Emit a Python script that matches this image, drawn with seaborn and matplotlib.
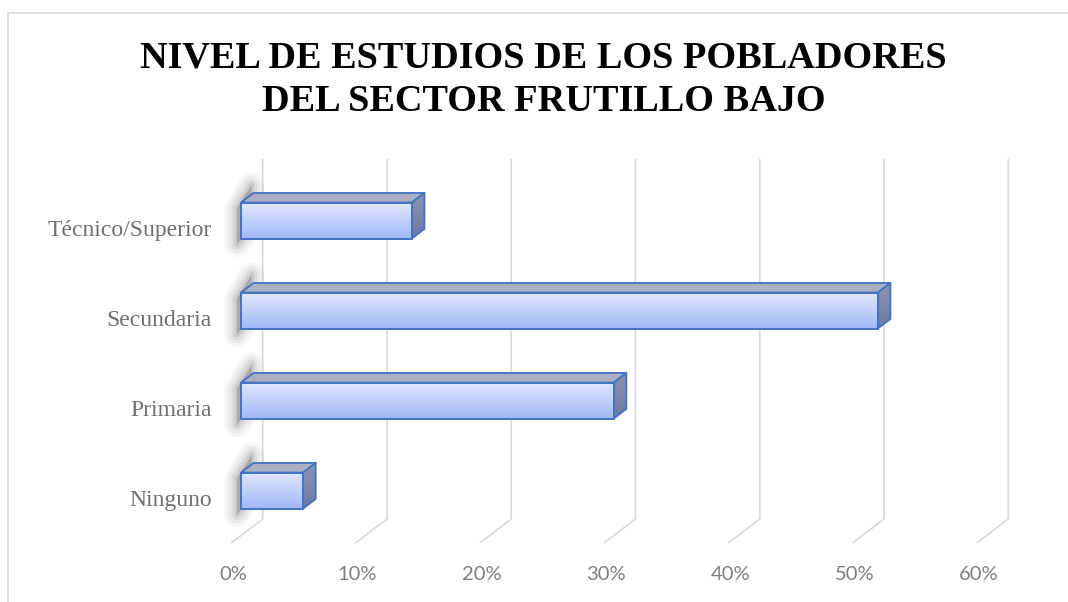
import numpy as np
import pandas as pd
import matplotlib
matplotlib.use("Agg")
import matplotlib.pyplot as plt
from matplotlib.patches import Polygon
from matplotlib.lines import Line2D
from matplotlib.colors import LinearSegmentedColormap
import seaborn as sns

# ---------------- data ----------------
categories = ["Técnico/Superior", "Secundaria", "Primaria", "Ninguno"]
values = [0.1375, 0.5125, 0.30, 0.05]
xticks = [0.0, 0.1, 0.2, 0.3, 0.4, 0.5, 0.6]
xtick_labels = ["0%", "10%", "20%", "30%", "40%", "50%", "60%"]
title_lines = ["NIVEL DE ESTUDIOS DE LOS POBLADORES", "DEL SECTOR FRUTILLO BAJO"]

# ---------------- layout ----------------
W, H = 1068, 602
sns.set_theme(style="white")
fig = plt.figure(figsize=(W / 100, H / 100), dpi=100)
fig.patch.set_facecolor("white")

wall_left, wall_right = 262.7, 1008.3
wall_top, wall_bottom = 159.0, 519.0
ax = fig.add_axes([wall_left / W, 1 - wall_bottom / H,
                   (wall_right - wall_left) / W, (wall_bottom - wall_top) / H])
XMAX = 0.6
NCAT = len(categories)
PXX = XMAX / (wall_right - wall_left)     # data units per pixel (x)
PXY = NCAT / (wall_bottom - wall_top)     # data units per pixel (y)

DXd = -31.5 * PXX   # full depth offset (back -> front)
DYd = 24.0 * PXY
F_FRONT, F_BACK = 0.69, 0.29
BAR_W = 0.4

df = pd.DataFrame({"cat": categories, "val": values})
sns.barplot(data=df, x="val", y="cat", orient="h", width=BAR_W, ax=ax,
            color="#b8c9fb", edgecolor="#4472c4", linewidth=1.4)

ax.set_xlim(0, XMAX)
ax.set_ylim(NCAT - 0.5, -0.5)
ax.axis("off")

edge = "#4472c4"
grid_c = "#d9d9d9"

# gridlines: back wall verticals + floor diagonals
ybot = NCAT - 0.5
for xv in xticks:
    ax.plot([xv, xv, xv + DXd], [-0.5, ybot, ybot + DYd], color=grid_c,
            lw=1.2, zorder=1, clip_on=False, solid_capstyle="butt")

front_cmap = LinearSegmentedColormap.from_list("front", ["#e1e8fe", "#9fb8f6"])
side_cmap = LinearSegmentedColormap.from_list("side", ["#8a94b4", "#6c79a0"])
grad = np.linspace(0, 1, 64).reshape(-1, 1)

ox_f, oy_f = F_FRONT * DXd, F_FRONT * DYd
ox_b, oy_b = F_BACK * DXd, F_BACK * DYd

for p in ax.patches:
    x0, y0 = p.get_x(), p.get_y()
    w, h = p.get_width(), p.get_height()
    yt, yb = y0, y0 + h  # yt visually top (inverted axis)

    # soft shadow along the left side
    sh = [(x0 + ox_f - 4 * PXX, yt + oy_f + 6 * PXY),
          (x0 + ox_f - 4 * PXX, yb + oy_f + 6 * PXY),
          (x0 + ox_b - 2 * PXX, yb + oy_b - 4 * PXY),
          (x0 + ox_b - 2 * PXX, yt + oy_b - 8 * PXY)]
    for lw_, a_ in [(18, 0.05), (13, 0.07), (8, 0.09), (4, 0.12)]:
        ax.add_patch(Polygon(sh, closed=True, facecolor=(0.35, 0.35, 0.35, a_),
                             edgecolor=(0.35, 0.35, 0.35, a_), lw=lw_,
                             joinstyle="round", zorder=2, clip_on=False))

    # top face
    top = [(x0 + ox_f, yt + oy_f), (x0 + w + ox_f, yt + oy_f),
           (x0 + w + ox_b, yt + oy_b), (x0 + ox_b, yt + oy_b)]
    ax.add_patch(Polygon(top, closed=True, facecolor="#aab0c1", edgecolor=edge,
                         lw=1.3, joinstyle="round", zorder=3, clip_on=False))
    # side face
    side = [(x0 + w + ox_f, yt + oy_f), (x0 + w + ox_f, yb + oy_f),
            (x0 + w + ox_b, yb + oy_b), (x0 + w + ox_b, yt + oy_b)]
    sp = Polygon(side, closed=True, facecolor="none", edgecolor=edge,
                 lw=1.3, joinstyle="round", zorder=3.6, clip_on=False)
    ax.add_patch(sp)
    im = ax.imshow(grad, cmap=side_cmap, aspect="auto", origin="upper",
                   extent=(x0 + w + ox_b, x0 + w + ox_f, yb + oy_f, yt + oy_b),
                   zorder=3.5, interpolation="bilinear")
    im.set_clip_path(sp)
    im.set_clip_on(True)

    # front face (seaborn bar moved to the front depth)
    p.set_x(x0 + ox_f)
    p.set_y(y0 + oy_f)
    p.set_facecolor("none")
    p.set_zorder(5)
    p.set_clip_on(False)
    im2 = ax.imshow(grad, cmap=front_cmap, aspect="auto", origin="upper",
                    extent=(x0 + ox_f, x0 + w + ox_f, yb + oy_f, yt + oy_f),
                    zorder=4, interpolation="bilinear")
    im2.set_clip_path(p)

ax.set_xlim(0, XMAX)
ax.set_ylim(NCAT - 0.5, -0.5)

# category labels (front edge of floor)
for i, c in enumerate(categories):
    ax.text((212 - wall_left) * PXX, i + DYd + 7.8 * PXY, c, ha="right",
            va="baseline", fontsize=17, color="#6f6f6f",
            family=["Liberation Serif", "DejaVu Serif"], clip_on=False)

# x tick labels
for xv, lab in zip(xticks, xtick_labels):
    ax.text(xv + DXd + 2 * PXX, ybot + DYd + 37.5 * PXY, lab, ha="center",
            va="baseline", fontsize=14.5, color="#7f7f7f",
            family=["Lato", "DejaVu Sans"], clip_on=False)

# title
fig.text(543.5 / W, 1 - 68 / H, title_lines[0], ha="center", va="baseline",
         fontsize=27.5, fontweight="bold", color="black",
         family=["Liberation Serif", "DejaVu Serif"])
fig.text(543.5 / W, 1 - 111 / H, title_lines[1], ha="center", va="baseline",
         fontsize=27.5, fontweight="bold", color="black",
         family=["Liberation Serif", "DejaVu Serif"])

# chart-area border (left & top visible)
fig.add_artist(Line2D([8 / W, 8 / W, 1.0], [0.0, 1 - 13 / H, 1 - 13 / H],
                      transform=fig.transFigure, color="#d9d9d9", lw=1.2))

fig.savefig("out.png", dpi=100, facecolor="white")
